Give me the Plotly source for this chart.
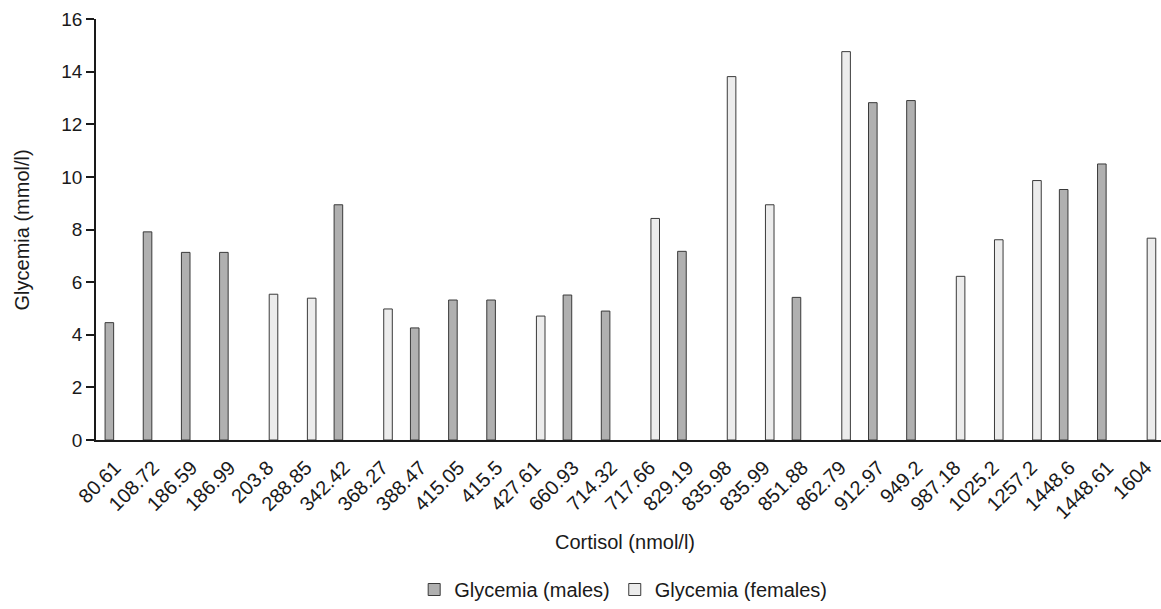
import plotly.graph_objects as go

cortisol = ["80.61", "108.72", "186.59", "186.99", "203.8", "288.85", "342.42", "368.27",
            "388.47", "415.05", "415.5", "427.61", "660.93", "714.32", "717.66", "829.19",
            "835.98", "835.99", "851.88", "862.79", "912.97", "949.2", "987.18", "1025.2",
            "1257.2", "1448.6", "1448.61", "1604"]

males = [4.46, 7.91, 7.13, 7.13, None, None, 8.94, None,
         4.26, 5.32, 5.32, None, 5.51, 4.90, None, 7.17,
         None, None, 5.42, None, 12.82, 12.90, None, None,
         None, 9.52, 10.49, None]

females = [None, None, None, None, 5.54, 5.39, None, 4.98,
           None, None, None, 4.71, None, None, 8.42, None,
           13.81, 8.94, None, 14.76, None, None, 6.22, 7.61,
           9.86, None, None, 7.67]

y_ticks = [0, 2, 4, 6, 8, 10, 12, 14, 16]

FONT = "Liberation Sans, Arial, sans-serif"
TXT = "#1a1a1a"

fig = go.Figure()
fig.add_trace(go.Bar(x=cortisol, y=males, name="Glycemia (males)",
                     marker=dict(color="#b0b0b0", line=dict(color="#3a3a3a", width=1))))
fig.add_trace(go.Bar(x=cortisol, y=females, name="Glycemia (females)",
                     marker=dict(color="#ececec", line=dict(color="#3a3a3a", width=1))))

fig.update_layout(
    width=1161, height=609,
    margin=dict(l=96, r=0, t=19, b=166),
    paper_bgcolor="white", plot_bgcolor="white",
    font=dict(family=FONT, size=20, color=TXT),
    barmode="group", bargap=0.40, bargroupgap=0.25,
    showlegend=True,
    legend=dict(orientation="h", x=0.495, xanchor="center", y=-0.356, yanchor="middle",
                font=dict(size=20, color=TXT), itemwidth=30, tracegroupgap=0),
    xaxis=dict(
        type="category", range=[-0.5, 27.4], automargin=False,
        showline=True, linecolor="#1a1a1a", linewidth=2,
        ticks="", tickangle=-45, showgrid=False, ticklabelstandoff=6,
        tickfont=dict(size=20, color=TXT),
    ),
    yaxis=dict(
        range=[0, 16], tickvals=y_ticks, automargin=False,
        showline=True, linecolor="#1a1a1a", linewidth=1.5,
        ticks="outside", ticklen=8, tickwidth=1.5, tickcolor="#1a1a1a",
        showgrid=False, zeroline=False,
        tickfont=dict(size=19, color=TXT),
    ),
    annotations=[
        dict(text="Cortisol (nmol/l)", xref="paper", yref="paper",
             x=0.497, y=-0.243, xanchor="center", yanchor="middle",
             showarrow=False, font=dict(size=20, color=TXT)),
        dict(text="Glycemia (mmol/l)", xref="paper", yref="paper",
             x=-0.0695, y=0.5, xanchor="center", yanchor="middle", textangle=-90,
             showarrow=False, font=dict(size=20, color=TXT)),
    ],
)

fig.write_html("out.html", config={"displayModeBar": False},
               post_script="document.body.style.margin='0';")
